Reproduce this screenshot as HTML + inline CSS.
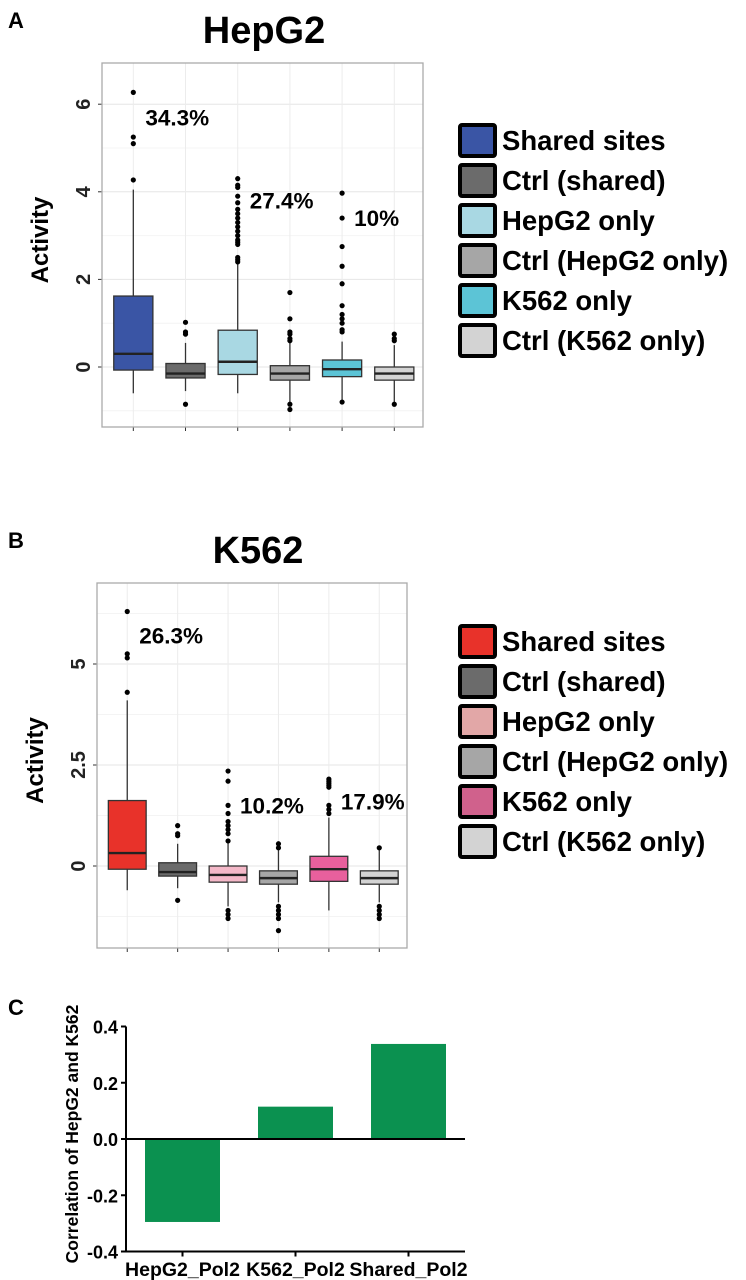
<!DOCTYPE html>
<html><head><meta charset="utf-8"><style>
html,body{margin:0;padding:0;background:#fff;}
svg{display:block;font-family:"Liberation Sans",Arial,sans-serif;}
</style></head><body>
<svg id="fig" width="746" height="1280" viewBox="0 0 746 1280" xmlns="http://www.w3.org/2000/svg">
<text x="8" y="28" font-size="22" font-weight="bold">A</text>
<text x="264" y="43" font-size="38" font-weight="bold" text-anchor="middle">HepG2</text>
<text x="8" y="548" font-size="22" font-weight="bold">B</text>
<text x="258" y="563" font-size="38" font-weight="bold" text-anchor="middle">K562</text>
<text x="8" y="1015" font-size="22" font-weight="bold">C</text>
<g id="gA"></g>
<g id="gB"></g>
<g id="gC"></g>
</svg>
<script>
// Panel A data
const groupsA = ["Shared sites","Ctrl (shared)","HepG2 only","Ctrl (HepG2 only)","K562 only","Ctrl (K562 only)"];
const colorsA = ["#3a55a5","#6b6b6b","#a9d8e3","#a6a6a6","#5cc4d6","#d3d3d3"];
const lowA = [-0.6,-0.55,-0.6,-0.8,-0.75,-0.8];
const q1A = [-0.07,-0.25,-0.17,-0.3,-0.22,-0.3];
const medA = [0.3,-0.15,0.12,-0.15,-0.05,-0.15];
const q3A = [1.62,0.08,0.84,0.03,0.16,0.0];
const highA = [4.05,0.55,2.35,0.55,0.58,0.5];
const outA = [[4.27,5.1,5.25,6.27],[0.75,0.8,1.02,-0.85],[2.4,2.45,2.5,2.8,2.85,2.9,3.0,3.1,3.2,3.3,3.4,3.5,3.6,3.75,3.9,4.1,4.15,4.3],[0.6,0.65,0.75,0.8,1.1,1.7,-0.85,-0.97],[0.8,0.85,1.0,1.1,1.2,1.4,1.9,2.3,2.75,3.4,3.97,-0.8],[0.6,0.65,0.75,-0.85]];
const ticksA = [0,2,4,6];
const pctA = ["34.3%","27.4%","10%"];
const pctPosA = [[0,5.7],[2,3.8],[4,3.4]];
// Panel B data
const colorsB = ["#e8322a","#6b6b6b","#f4b8c8","#a6a6a6","#e8609d","#d3d3d3"];
const legendColorsB = ["#e8322a","#6b6b6b","#e2a7a7","#a6a6a6","#d0618c","#d3d3d3"];
const lowB = [-0.6,-0.55,-1.0,-0.9,-1.1,-0.9];
const q1B = [-0.08,-0.25,-0.4,-0.45,-0.38,-0.45];
const medB = [0.32,-0.15,-0.22,-0.3,-0.08,-0.3];
const q3B = [1.62,0.08,0.0,-0.12,0.24,-0.12];
const highB = [4.1,0.55,0.6,0.4,1.2,0.4];
const outB = [[4.3,5.15,5.25,6.3],[0.75,0.8,1.0,-0.85],[0.62,0.8,0.9,1.0,1.1,1.3,1.5,2.1,2.35,-1.1,-1.2,-1.3],[0.45,0.55,-1.0,-1.1,-1.2,-1.3,-1.6],[1.3,1.4,1.5,1.95,2.0,2.05,2.1,2.15],[0.45,-1.0,-1.1,-1.2,-1.3]];
const ticksB = [0,2.5,5];
const tickLabelsB = ["0","2.5","5"];
const pctB = ["26.3%","10.2%","17.9%"];
const pctPosB = [[0,5.7],[2,1.5],[4,1.6]];
// Panel C data
const catsC = ["HepG2_Pol2","K562_Pol2","Shared_Pol2"];
const valsC = [-0.295,0.115,0.338];
const ticksC = [-0.4,-0.2,0.0,0.2,0.4];
const tickLabelsC = ["-0.4","-0.2","0.0","0.2","0.4"];

const NS="http://www.w3.org/2000/svg";
function mk(parent,tag,attrs,text){const e=document.createElementNS(NS,tag);for(const k in attrs)e.setAttribute(k,attrs[k]);if(text!==undefined)e.textContent=text;parent.appendChild(e);return e;}

function boxPanel(g,cfg){
  const {x0,x1,yTop,yBot,y0px,ppu,colors,low,q1,med,q3,high,outs,ticks,tickLabels,pct,pctPos,legendColors,legendY}=cfg;
  const Y=v=>y0px-v*ppu;
  const step=(x1-x0)/6.15, X=i=>x0+step*(0.6+i);
  const bw=step*0.75;
  const bg=mk(g,'rect',{x:x0,y:yTop,width:x1-x0,height:yBot-yTop,fill:'#fff'});
  
  
  const half=(ticks[1]-ticks[0])/2;
  for(let k=-1;k<=ticks.length;k++){const v=ticks[0]+(k*2+1)*half;const yy=Y(v);
    if(yy>yTop&&yy<yBot)mk(g,'line',{x1:x0,x2:x1,y1:yy,y2:yy,stroke:'#f4f4f4','stroke-width':1});}
  ticks.forEach((t,k)=>{const yy=Y(t);
    const gl=mk(g,'line',{x1:x0,x2:x1,y1:yy,y2:yy,stroke:'#e6e6e6','stroke-width':1});
    
    
    mk(g,'line',{x1:x0-4,x2:x0,y1:yy,y2:yy,stroke:'#333','stroke-width':1});
    const tl=mk(g,'text',{x:0,y:0,transform:`translate(${x0-12},${yy}) rotate(-90)`,'text-anchor':'middle','font-size':20,'font-weight':'bold',fill:'#222'},tickLabels[k]);
    
    
  });
  for(let i=0;i<6;i++){const cx=X(i);mk(g,'line',{x1:cx,x2:cx,y1:yTop,y2:yBot,stroke:'#ececec','stroke-width':1});
    mk(g,'line',{x1:cx,x2:cx,y1:yBot,y2:yBot+4,stroke:'#333','stroke-width':1});}
  const fr=mk(g,'rect',{x:x0,y:yTop,width:x1-x0,height:yBot-yTop,fill:'none',stroke:'#aaa','stroke-width':1.3});
  
  
  const yl=mk(g,'text',{x:0,y:0,transform:`translate(${x0-54},${(yTop+yBot)/2-5}) rotate(-90)`,'text-anchor':'middle','font-size':24,'font-weight':'bold'},'Activity');
  
  
  for(let i=0;i<6;i++){const cx=X(i);
    const bx=mk(g,'g',{});
    
    
    mk(bx,'line',{x1:cx,x2:cx,y1:Y(low[i]),y2:Y(q1[i]),stroke:'#333','stroke-width':1.3});
    mk(bx,'line',{x1:cx,x2:cx,y1:Y(q3[i]),y2:Y(high[i]),stroke:'#333','stroke-width':1.3});
    mk(bx,'rect',{x:cx-bw/2,y:Y(q3[i]),width:bw,height:Y(q1[i])-Y(q3[i]),fill:colors[i],stroke:'#333','stroke-width':1.3});
    mk(bx,'line',{x1:cx-bw/2,x2:cx+bw/2,y1:Y(med[i]),y2:Y(med[i]),stroke:'#222','stroke-width':2.4});
    outs[i].forEach(v=>{const c=mk(bx,'circle',{cx:cx,cy:Y(v),r:2.6,fill:'#000'});
      
      });
  }
  pct.forEach((p,k)=>{const t=mk(g,'text',{x:X(pctPos[k][0])+12,y:Y(pctPos[k][1])+8,'font-size':22.5,'font-weight':'bold'},p);
    
    });
  groupsA.forEach((name,k)=>{const yy=legendY+k*40;
    const le=mk(g,'g',{});
    
    
    mk(le,'rect',{x:460,y:yy-16,width:35,height:31,fill:legendColors[k],stroke:'#000','stroke-width':4,rx:2});
    mk(le,'text',{x:502,y:yy+9,'font-size':27.5,'font-weight':'bold',textLength:null},name);
  });
}
boxPanel(document.getElementById('gA'),{x0:102,x1:423,yTop:63,yBot:427,y0px:367,ppu:43.8,colors:colorsA,low:lowA,q1:q1A,med:medA,q3:q3A,high:highA,outs:outA,ticks:ticksA,tickLabels:ticksA.map(String),pct:pctA,pctPos:pctPosA,legendColors:colorsA,legendY:141});
boxPanel(document.getElementById('gB'),{x0:97,x1:407,yTop:583,yBot:948,y0px:866,ppu:40.4,colors:colorsB,low:lowB,q1:q1B,med:medB,q3:q3B,high:highB,outs:outB,ticks:ticksB,tickLabels:tickLabelsB,pct:pctB,pctPos:pctPosB,legendColors:legendColorsB,legendY:642});
document.querySelectorAll('text[textLength]').forEach(t=>t.removeAttribute('textLength'));

// Panel C
(function(){
  const g=document.getElementById('gC');
  const ax=126, axR=465, y0=1139, ppu=(1251-1026)/0.8;
  const Y=v=>y0-v*ppu;
  const bw=75, X=i=>ax+19+i*113;
  catsC.forEach((c,i)=>{const v=valsC[i];
    const r=mk(g,'rect',{x:X(i),y:Math.min(Y(v),y0),width:bw,height:Math.abs(Y(v)-y0),fill:'#0b9150'});
    
    
    mk(g,'line',{x1:X(i)+bw/2,x2:X(i)+bw/2,y1:Y(-0.4),y2:Y(-0.4)+5,stroke:'#000','stroke-width':2});
    const t=mk(g,'text',{x:X(i)+bw/2,y:1276,'text-anchor':'middle','font-size':19.5,'font-weight':'bold'},c);
    
    
  });
  const ya=mk(g,'line',{x1:ax,x2:ax,y1:Y(0.4),y2:Y(-0.4),stroke:'#000','stroke-width':2});
  
  
  mk(g,'line',{x1:ax,x2:axR,y1:Y(-0.4),y2:Y(-0.4),stroke:'#000','stroke-width':2});
  const zl=mk(g,'line',{x1:ax,x2:axR,y1:y0,y2:y0,stroke:'#000','stroke-width':2});
  
  
  ticksC.forEach((t,k)=>{const yy=Y(t);
    mk(g,'line',{x1:ax-5,x2:ax,y1:yy,y2:yy,stroke:'#000','stroke-width':2});
    const tl=mk(g,'text',{x:ax-8,y:yy+7,'text-anchor':'end','font-size':18,'font-weight':'bold'},tickLabelsC[k]);
    
    });
  const yt=mk(g,'text',{x:0,y:0,transform:`translate(78,1134) rotate(-90)`,'text-anchor':'middle','font-size':17.5,'font-weight':'bold'},'Correlation of HepG2 and K562');
  
  
})();
</script>
</body></html>
